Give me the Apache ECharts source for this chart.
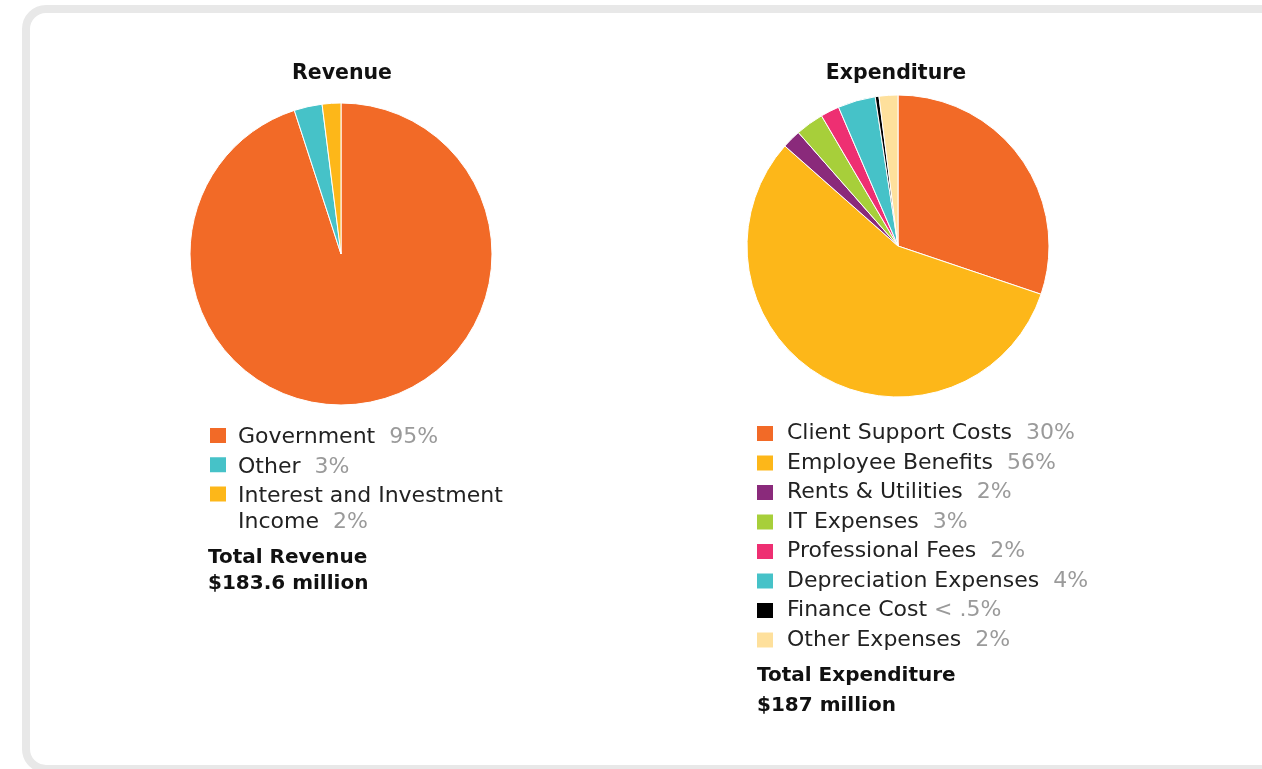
<!DOCTYPE html>
<html>
<head>
<meta charset="utf-8">
<title>Revenue and Expenditure</title>
<script src="https://cdn.jsdelivr.net/npm/echarts@6/dist/echarts.min.js"></script>
<style>
  html, body { margin: 0; padding: 0; background: #ffffff; overflow: hidden; }
  #card {
    position: absolute; left: 22px; top: 5px;
    width: 1300px; height: 752px;
    border: 8px solid #e8e8e8; border-radius: 24px; background: #ffffff;
  }
  #chart { position: absolute; left: 0; top: 0; width: 1262px; height: 769px; }
</style>
</head>
<body>
<div id="card"></div>
<div id="chart"></div>
<script>
// Revenue breakdown (percent of total)
const revenueCategories = ['Government', 'Other', 'Interest and Investment Income'];
const revenueLegendText = ['Government', 'Other', 'Interest and Investment\nIncome'];
const revenueValues = [95, 3, 2];
const revenuePctLabels = ['95%', '3%', '2%'];
const revenueTotal = '$183.6 million';

// Expenditure breakdown (percent of total)
const expenditureCategories = [
  'Client Support Costs', 'Employee Benefits', 'Rents & Utilities', 'IT Expenses',
  'Professional Fees', 'Depreciation Expenses', 'Finance Cost', 'Other Expenses'
];
const expenditureValues = [30, 56, 2, 3, 2, 4, 0.4, 2];
const expenditurePctLabels = ['30%', '56%', '2%', '3%', '2%', '4%', '< .5%', '2%'];
const expenditureTotal = '$187 million';

const revenueColors = ['#f26a27', '#46c2c8', '#fdb719'];
const expenditureColors = ['#f26a27', '#fdb719', '#8a2a7b', '#a7cf3a', '#ee2f72', '#46c2c8', '#000000', '#fee09c'];

const FONT = '"DejaVu Sans", "Noto Sans", sans-serif';
const FS = 22;
const LH = 26;

const rich = {
  n: { color: '#222222', fontSize: FS, fontFamily: FONT, lineHeight: LH },
  p: { color: '#9a9a9a', fontSize: FS, fontFamily: FONT, lineHeight: LH }
};

function legendLabel(text, pct) {
  const lines = text.split('\n');
  const sep = pct.charAt(0) === '<' ? ' ' : '  ';
  return lines.map(function (l, i) {
    return '{n|' + l + '}' + (i === lines.length - 1 ? sep + '{p|' + pct + '}' : '');
  }).join('\n');
}

const revLabelMap = {};
revenueCategories.forEach(function (c, i) { revLabelMap[c] = legendLabel(revenueLegendText[i], revenuePctLabels[i]); });
const expLabelMap = {};
expenditureCategories.forEach(function (c, i) { expLabelMap[c] = legendLabel(c, expenditurePctLabels[i]); });

function legendBase(extra) {
  return Object.assign({
    orient: 'vertical',
    padding: 0,
    itemWidth: 18,
    itemHeight: 17,
    icon: 'rect',
    selectedMode: false
  }, extra);
}

function legendText(padding) {
  return { fontSize: FS, fontFamily: FONT, lineHeight: LH, rich: rich, padding: padding };
}

const titleStyle = { fontFamily: FONT, fontWeight: 'bold', color: '#111111' };

const chart = echarts.init(document.getElementById('chart'), null, { renderer: 'canvas' });

chart.setOption({
  animation: false,
  title: [
    { text: 'Revenue', left: 342, top: 62, textAlign: 'center', padding: 0,
      textStyle: Object.assign({ fontSize: 20.5, lineHeight: 24 }, titleStyle) },
    { text: 'Expenditure', left: 896, top: 62, textAlign: 'center', padding: 0,
      textStyle: Object.assign({ fontSize: 20.5, lineHeight: 24 }, titleStyle) },
    { text: 'Total Revenue\n' + revenueTotal, left: 208, top: 545, padding: 0,
      textStyle: Object.assign({ fontSize: 20, lineHeight: 26 }, titleStyle) },
    { text: 'Total Expenditure\n' + expenditureTotal, left: 757, top: 661, padding: 0,
      textStyle: Object.assign({ fontSize: 20, lineHeight: 30 }, titleStyle) }
  ],
  legend: [
    legendBase({
      left: 208, top: 420.5, itemGap: -0.7,
      data: revenueCategories.slice(0, 2),
      formatter: function (name) { return revLabelMap[name]; },
      textStyle: legendText([4, 0, 0, 6])
    }),
    legendBase({
      left: 208, top: 453.1,
      data: revenueCategories.slice(2),
      formatter: function (name) { return revLabelMap[name]; },
      textStyle: legendText([LH + 4, 0, 0, 6])
    }),
    legendBase({
      left: 755, top: 420.5, itemGap: 3.5,
      data: expenditureCategories,
      formatter: function (name) { return expLabelMap[name]; },
      textStyle: legendText([0, 0, 0, 8])
    })
  ],
  series: [
    {
      name: 'Revenue',
      type: 'pie',
      center: [341, 254],
      radius: 151,
      startAngle: 90,
      clockwise: true,
      label: { show: false },
      labelLine: { show: false },
      emphasis: { disabled: true },
      itemStyle: { borderColor: '#ffffff', borderWidth: 1 },
      data: revenueCategories.map(function (c, i) {
        return { name: c, value: revenueValues[i], itemStyle: { color: revenueColors[i] } };
      })
    },
    {
      name: 'Expenditure',
      type: 'pie',
      center: [898, 246],
      radius: 151,
      startAngle: 90,
      clockwise: true,
      label: { show: false },
      labelLine: { show: false },
      emphasis: { disabled: true },
      itemStyle: { borderColor: '#ffffff', borderWidth: 1 },
      data: expenditureCategories.map(function (c, i) {
        return { name: c, value: expenditureValues[i], itemStyle: { color: expenditureColors[i] } };
      })
    }
  ]
});
</script>
</body>
</html>
